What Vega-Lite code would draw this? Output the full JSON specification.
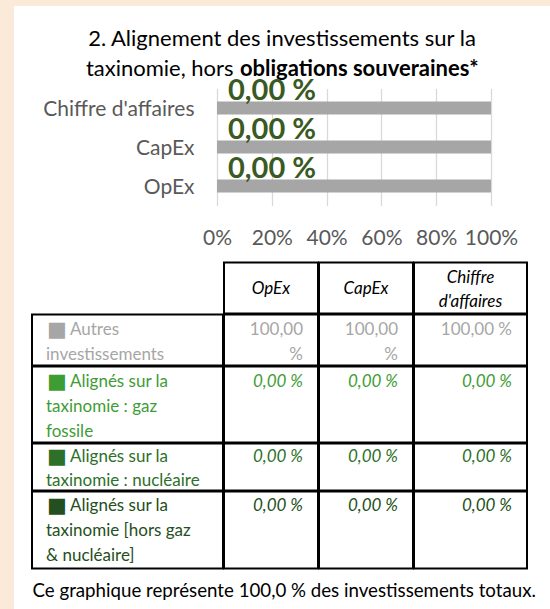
{
  "$schema": "https://vega.github.io/schema/vega-lite/v6.json",
  "background": "#FFFFFF",
  "padding": 0,
  "config": {
    "font": "Lato",
    "view": {"stroke": null},
    "legend": {"disable": true},
    "locale": {"number": {"decimal": ",", "thousands": "\u00a0", "grouping": [3], "currency": ["", "\u00a0€"], "percent": " %"}}
  },
  "datasets": {
    "repartition": [
      {"indicateur": "OpEx", "categorie": "Autres investissements", "part": 1},
      {"indicateur": "OpEx", "categorie": "Alignés sur la taxinomie : gaz fossile", "part": 0},
      {"indicateur": "OpEx", "categorie": "Alignés sur la taxinomie : nucléaire", "part": 0},
      {"indicateur": "OpEx", "categorie": "Alignés sur la taxinomie [hors gaz & nucléaire]", "part": 0},
      {"indicateur": "CapEx", "categorie": "Autres investissements", "part": 1},
      {"indicateur": "CapEx", "categorie": "Alignés sur la taxinomie : gaz fossile", "part": 0},
      {"indicateur": "CapEx", "categorie": "Alignés sur la taxinomie : nucléaire", "part": 0},
      {"indicateur": "CapEx", "categorie": "Alignés sur la taxinomie [hors gaz & nucléaire]", "part": 0},
      {"indicateur": "Chiffre d'affaires", "categorie": "Autres investissements", "part": 1},
      {"indicateur": "Chiffre d'affaires", "categorie": "Alignés sur la taxinomie : gaz fossile", "part": 0},
      {"indicateur": "Chiffre d'affaires", "categorie": "Alignés sur la taxinomie : nucléaire", "part": 0},
      {"indicateur": "Chiffre d'affaires", "categorie": "Alignés sur la taxinomie [hors gaz & nucléaire]", "part": 0}
    ],
    "lignes": [
      {"categorie": "Autres investissements", "premiere": "Autres", "suite": "investissements"},
      {"categorie": "Alignés sur la taxinomie : gaz fossile", "premiere": "Alignés sur la", "suite": "taxinomie : gaz\nfossile"},
      {"categorie": "Alignés sur la taxinomie : nucléaire", "premiere": "Alignés sur la", "suite": "taxinomie : nucléaire"},
      {"categorie": "Alignés sur la taxinomie [hors gaz & nucléaire]", "premiere": "Alignés sur la", "suite": "taxinomie [hors gaz\n& nucléaire]"}
    ],
    "titre": [
      {"ligne": 1, "segment": 1, "texte": "2. Alignement des investissements sur la"},
      {"ligne": 2, "segment": 1, "texte": "taxinomie, hors"},
      {"ligne": 2, "segment": 2, "texte": "obligations souveraines*"}
    ],
    "note": [{"texte": "Ce graphique représente 100,0 % des investissements totaux."}]
  },
  "spacing": 0,
  "hconcat": [
    {"width": 14, "height": 609, "view": {"fill": "#FBE9DA"}, "data": {"values": []}, "mark": "rect", "encoding": {}},
    {"spacing": 21.5, "vconcat": [
      {"width": 536, "height": 6, "view": {"fill": "#FBE9DA"}, "data": {"values": []}, "mark": "rect", "encoding": {}},
      {"spacing": 16, "hconcat": [
        {"width": 1, "height": 1, "data": {"values": []}, "mark": "rect", "encoding": {}},
        {"spacing": -4, "vconcat": [
          {"center": true, "spacing": 8.5, "vconcat": [
            {"width": 500, "height": 22, "data": {"name": "titre"}, "transform": [{"filter": "datum.ligne == 1"}],
             "mark": {"type": "text", "fontSize": 22, "color": "#000000"},
             "encoding": {"text": {"field": "texte"}}},
            {"spacing": 5, "hconcat": [
              {"width": 1, "height": 22, "data": {"name": "titre"}, "transform": [{"filter": "datum.ligne == 2 && datum.segment == 1"}],
               "mark": {"type": "text", "align": "left", "fontSize": 22, "color": "#000000"},
               "encoding": {"text": {"field": "texte"}}},
              {"width": 1, "height": 22, "data": {"name": "titre"}, "transform": [{"filter": "datum.ligne == 2 && datum.segment == 2"}],
               "mark": {"type": "text", "align": "left", "fontSize": 22, "fontWeight": "bold", "color": "#000000"},
               "encoding": {"text": {"field": "texte"}}}
            ]}
          ]},
          {"spacing": 0, "hconcat": [
            {"width": 1, "height": 1, "data": {"values": []}, "mark": "rect", "encoding": {}},
            {"width": 274, "height": 117, "data": {"name": "repartition"},
             "layer": [
               {"mark": {"type": "bar", "size": 13},
                "encoding": {
                  "y": {"field": "indicateur", "type": "nominal", "sort": ["Chiffre d'affaires", "CapEx", "OpEx"], "scale": {"paddingInner": 0, "paddingOuter": 0},
                        "axis": {"title": null, "domain": false, "ticks": false, "tickSize": 0, "labelPadding": 23, "labelOffset": 1.5, "labelFontSize": 21, "labelColor": "#595959", "labelLimit": 0, "minExtent": 184, "maxExtent": 184}},
                  "x": {"field": "part", "type": "quantitative", "stack": "zero", "scale": {"domain": [0, 1]},
                        "axis": {"title": null, "values": [0, 0.2, 0.4, 0.6, 0.8, 1], "labelExpr": "round(datum.value * 100) + '%'", "domain": false, "ticks": false, "tickSize": 0, "labelPadding": 22, "labelFontSize": 21, "labelColor": "#595959", "labelFlush": false, "labelOverlap": false, "grid": true, "gridColor": "#D9D9D9", "gridWidth": 1.3, "minExtent": 57, "maxExtent": 57}},
                  "color": {"field": "categorie", "type": "nominal", "scale": {"domain": ["Autres investissements", "Alignés sur la taxinomie : gaz fossile", "Alignés sur la taxinomie : nucléaire", "Alignés sur la taxinomie [hors gaz & nucléaire]"], "range": ["#A6A6A6", "#3E9C35", "#2D7029", "#244F20"]}, "legend": null}
                }},
               {"transform": [{"filter": "datum.categorie != 'Autres investissements'"}, {"aggregate": [{"op": "sum", "field": "part", "as": "aligne"}], "groupby": ["indicateur"]}],
                "mark": {"type": "text", "align": "left", "baseline": "middle", "dx": 11, "dy": 2, "fontSize": 29, "fontWeight": "bold", "color": "#3A5A24"},
                "encoding": {
                  "y": {"field": "indicateur", "type": "nominal", "sort": ["Chiffre d'affaires", "CapEx", "OpEx"], "bandPosition": 0},
                  "x": {"field": "aligne", "type": "quantitative"},
                  "text": {"field": "aligne", "type": "quantitative", "format": ".2%"}
                }}
             ]}
          ]},
          {"spacing": -5, "vconcat": [
            {"spacing": -5, "hconcat": [
              {"width": 191, "height": 51, "view": {"stroke": "#FFFFFF", "strokeWidth": 2}, "data": {"values": []}, "mark": "text", "encoding": {}},
              {"width": 94, "height": 51, "view": {"stroke": "#000000", "strokeWidth": 2}, "data": {"name": "repartition"},
               "transform": [{"filter": "datum.indicateur == 'OpEx' && datum.categorie == 'Autres investissements'"}],
               "mark": {"type": "text", "align": "center", "baseline": "top", "dy": 18, "fontStyle": "italic", "fontSize": 17, "color": "#000000"},
               "encoding": {"y": {"datum": 1, "type": "quantitative", "scale": {"domain": [0, 1]}, "axis": null}, "text": {"field": "indicateur"}}},
              {"width": 94, "height": 51, "view": {"stroke": "#000000", "strokeWidth": 2}, "data": {"name": "repartition"},
               "transform": [{"filter": "datum.indicateur == 'CapEx' && datum.categorie == 'Autres investissements'"}],
               "mark": {"type": "text", "align": "center", "baseline": "top", "dy": 18, "fontStyle": "italic", "fontSize": 17, "color": "#000000"},
               "encoding": {"y": {"datum": 1, "type": "quantitative", "scale": {"domain": [0, 1]}, "axis": null}, "text": {"field": "indicateur"}}},
              {"width": 113, "height": 51, "view": {"stroke": "#000000", "strokeWidth": 2}, "data": {"name": "repartition"},
               "transform": [{"filter": "datum.indicateur == \"Chiffre d'affaires\" && datum.categorie == 'Autres investissements'"}],
               "mark": {"type": "text", "align": "center", "baseline": "top", "dy": 7, "lineHeight": 24, "lineBreak": " ", "fontStyle": "italic", "fontSize": 17, "color": "#000000"},
               "encoding": {"y": {"datum": 1, "type": "quantitative", "scale": {"domain": [0, 1]}, "axis": null}, "text": {"field": "indicateur"}}}
            ]},
            {"spacing": -5, "hconcat": [
              {"width": 191, "height": 51, "view": {"stroke": "#000000", "strokeWidth": 2}, "data": {"name": "lignes"},
               "transform": [{"filter": "datum.categorie == 'Autres investissements'"}],
               "encoding": {"x": {"datum": 0, "type": "quantitative", "scale": {"domain": [0, 1]}, "axis": null}, "y": {"datum": 1, "type": "quantitative", "scale": {"domain": [0, 1]}, "axis": null},
                 "color": {"field": "categorie", "type": "nominal", "scale": {"domain": ["Autres investissements", "Alignés sur la taxinomie : gaz fossile", "Alignés sur la taxinomie : nucléaire", "Alignés sur la taxinomie [hors gaz & nucléaire]"], "range": ["#A6A6A6", "#3E9C35", "#2D7029", "#244F20"]}, "legend": null}},
               "layer": [
                 {"mark": {"type": "text", "text": "■", "font": "DejaVu Sans", "fontSize": 21, "align": "left", "baseline": "alphabetic", "dx": 15, "dy": 21}},
                 {"mark": {"type": "text", "align": "left", "baseline": "top", "dx": 38, "dy": 7.5, "fontSize": 17}, "encoding": {"text": {"field": "premiere"}}},
                 {"mark": {"type": "text", "align": "left", "baseline": "top", "dx": 14, "dy": 32.5, "lineHeight": 25, "lineBreak": "\n", "fontSize": 17}, "encoding": {"text": {"field": "suite"}}}
               ]},
              {"width": 94, "height": 51, "view": {"stroke": "#000000", "strokeWidth": 2}, "data": {"name": "repartition"},
               "transform": [{"filter": "datum.indicateur == 'OpEx' && datum.categorie == 'Autres investissements'"}],
               "mark": {"type": "text", "align": "right", "baseline": "top", "dx": -15, "dy": 7.5, "lineHeight": 25, "lineBreak": " ", "fontSize": 17},
               "encoding": {"x": {"datum": 1, "type": "quantitative", "scale": {"domain": [0, 1]}, "axis": null}, "y": {"datum": 1, "type": "quantitative", "scale": {"domain": [0, 1]}, "axis": null}, "text": {"field": "part", "type": "quantitative", "format": ".2%"},
                 "color": {"field": "categorie", "type": "nominal", "scale": {"domain": ["Autres investissements", "Alignés sur la taxinomie : gaz fossile", "Alignés sur la taxinomie : nucléaire", "Alignés sur la taxinomie [hors gaz & nucléaire]"], "range": ["#A6A6A6", "#3E9C35", "#2D7029", "#244F20"]}, "legend": null}}},
              {"width": 94, "height": 51, "view": {"stroke": "#000000", "strokeWidth": 2}, "data": {"name": "repartition"},
               "transform": [{"filter": "datum.indicateur == 'CapEx' && datum.categorie == 'Autres investissements'"}],
               "mark": {"type": "text", "align": "right", "baseline": "top", "dx": -15, "dy": 7.5, "lineHeight": 25, "lineBreak": " ", "fontSize": 17},
               "encoding": {"x": {"datum": 1, "type": "quantitative", "scale": {"domain": [0, 1]}, "axis": null}, "y": {"datum": 1, "type": "quantitative", "scale": {"domain": [0, 1]}, "axis": null}, "text": {"field": "part", "type": "quantitative", "format": ".2%"},
                 "color": {"field": "categorie", "type": "nominal", "scale": {"domain": ["Autres investissements", "Alignés sur la taxinomie : gaz fossile", "Alignés sur la taxinomie : nucléaire", "Alignés sur la taxinomie [hors gaz & nucléaire]"], "range": ["#A6A6A6", "#3E9C35", "#2D7029", "#244F20"]}, "legend": null}}},
              {"width": 113, "height": 51, "view": {"stroke": "#000000", "strokeWidth": 2}, "data": {"name": "repartition"},
               "transform": [{"filter": "datum.indicateur == \"Chiffre d'affaires\" && datum.categorie == 'Autres investissements'"}],
               "mark": {"type": "text", "align": "right", "baseline": "top", "dx": -15, "dy": 7.5, "lineHeight": 25, "fontSize": 17},
               "encoding": {"x": {"datum": 1, "type": "quantitative", "scale": {"domain": [0, 1]}, "axis": null}, "y": {"datum": 1, "type": "quantitative", "scale": {"domain": [0, 1]}, "axis": null}, "text": {"field": "part", "type": "quantitative", "format": ".2%"},
                 "color": {"field": "categorie", "type": "nominal", "scale": {"domain": ["Autres investissements", "Alignés sur la taxinomie : gaz fossile", "Alignés sur la taxinomie : nucléaire", "Alignés sur la taxinomie [hors gaz & nucléaire]"], "range": ["#A6A6A6", "#3E9C35", "#2D7029", "#244F20"]}, "legend": null}}}
            ]},
            {"spacing": -5, "hconcat": [
              {"width": 191, "height": 76, "view": {"stroke": "#000000", "strokeWidth": 2}, "data": {"name": "lignes"},
               "transform": [{"filter": "datum.categorie == 'Alignés sur la taxinomie : gaz fossile'"}],
               "encoding": {"x": {"datum": 0, "type": "quantitative", "scale": {"domain": [0, 1]}, "axis": null}, "y": {"datum": 1, "type": "quantitative", "scale": {"domain": [0, 1]}, "axis": null},
                 "color": {"field": "categorie", "type": "nominal", "scale": {"domain": ["Autres investissements", "Alignés sur la taxinomie : gaz fossile", "Alignés sur la taxinomie : nucléaire", "Alignés sur la taxinomie [hors gaz & nucléaire]"], "range": ["#A6A6A6", "#3E9C35", "#2D7029", "#244F20"]}, "legend": null}},
               "layer": [
                 {"mark": {"type": "text", "text": "■", "font": "DejaVu Sans", "fontSize": 21, "align": "left", "baseline": "alphabetic", "dx": 15, "dy": 21}},
                 {"mark": {"type": "text", "align": "left", "baseline": "top", "dx": 38, "dy": 7.5, "fontSize": 17}, "encoding": {"text": {"field": "premiere"}}},
                 {"mark": {"type": "text", "align": "left", "baseline": "top", "dx": 14, "dy": 32.5, "lineHeight": 24.5, "lineBreak": "\n", "fontSize": 17}, "encoding": {"text": {"field": "suite"}}}
               ]},
              {"width": 94, "height": 76, "view": {"stroke": "#000000", "strokeWidth": 2}, "data": {"name": "repartition"},
               "transform": [{"filter": "datum.indicateur == 'OpEx' && datum.categorie == 'Alignés sur la taxinomie : gaz fossile'"}],
               "mark": {"type": "text", "align": "right", "baseline": "top", "dx": -15, "dy": 7.5, "lineHeight": 25, "fontStyle": "italic", "fontSize": 17},
               "encoding": {"x": {"datum": 1, "type": "quantitative", "scale": {"domain": [0, 1]}, "axis": null}, "y": {"datum": 1, "type": "quantitative", "scale": {"domain": [0, 1]}, "axis": null}, "text": {"field": "part", "type": "quantitative", "format": ".2%"},
                 "color": {"field": "categorie", "type": "nominal", "scale": {"domain": ["Autres investissements", "Alignés sur la taxinomie : gaz fossile", "Alignés sur la taxinomie : nucléaire", "Alignés sur la taxinomie [hors gaz & nucléaire]"], "range": ["#A6A6A6", "#3E9C35", "#2D7029", "#244F20"]}, "legend": null}}},
              {"width": 94, "height": 76, "view": {"stroke": "#000000", "strokeWidth": 2}, "data": {"name": "repartition"},
               "transform": [{"filter": "datum.indicateur == 'CapEx' && datum.categorie == 'Alignés sur la taxinomie : gaz fossile'"}],
               "mark": {"type": "text", "align": "right", "baseline": "top", "dx": -15, "dy": 7.5, "lineHeight": 25, "fontStyle": "italic", "fontSize": 17},
               "encoding": {"x": {"datum": 1, "type": "quantitative", "scale": {"domain": [0, 1]}, "axis": null}, "y": {"datum": 1, "type": "quantitative", "scale": {"domain": [0, 1]}, "axis": null}, "text": {"field": "part", "type": "quantitative", "format": ".2%"},
                 "color": {"field": "categorie", "type": "nominal", "scale": {"domain": ["Autres investissements", "Alignés sur la taxinomie : gaz fossile", "Alignés sur la taxinomie : nucléaire", "Alignés sur la taxinomie [hors gaz & nucléaire]"], "range": ["#A6A6A6", "#3E9C35", "#2D7029", "#244F20"]}, "legend": null}}},
              {"width": 113, "height": 76, "view": {"stroke": "#000000", "strokeWidth": 2}, "data": {"name": "repartition"},
               "transform": [{"filter": "datum.indicateur == \"Chiffre d'affaires\" && datum.categorie == 'Alignés sur la taxinomie : gaz fossile'"}],
               "mark": {"type": "text", "align": "right", "baseline": "top", "dx": -15, "dy": 7.5, "lineHeight": 25, "fontStyle": "italic", "fontSize": 17},
               "encoding": {"x": {"datum": 1, "type": "quantitative", "scale": {"domain": [0, 1]}, "axis": null}, "y": {"datum": 1, "type": "quantitative", "scale": {"domain": [0, 1]}, "axis": null}, "text": {"field": "part", "type": "quantitative", "format": ".2%"},
                 "color": {"field": "categorie", "type": "nominal", "scale": {"domain": ["Autres investissements", "Alignés sur la taxinomie : gaz fossile", "Alignés sur la taxinomie : nucléaire", "Alignés sur la taxinomie [hors gaz & nucléaire]"], "range": ["#A6A6A6", "#3E9C35", "#2D7029", "#244F20"]}, "legend": null}}}
            ]},
            {"spacing": -5, "hconcat": [
              {"width": 191, "height": 47, "view": {"stroke": "#000000", "strokeWidth": 2}, "data": {"name": "lignes"},
               "transform": [{"filter": "datum.categorie == 'Alignés sur la taxinomie : nucléaire'"}],
               "encoding": {"x": {"datum": 0, "type": "quantitative", "scale": {"domain": [0, 1]}, "axis": null}, "y": {"datum": 1, "type": "quantitative", "scale": {"domain": [0, 1]}, "axis": null},
                 "color": {"field": "categorie", "type": "nominal", "scale": {"domain": ["Autres investissements", "Alignés sur la taxinomie : gaz fossile", "Alignés sur la taxinomie : nucléaire", "Alignés sur la taxinomie [hors gaz & nucléaire]"], "range": ["#A6A6A6", "#3E9C35", "#2D7029", "#244F20"]}, "legend": null}},
               "layer": [
                 {"mark": {"type": "text", "text": "■", "font": "DejaVu Sans", "fontSize": 21, "align": "left", "baseline": "alphabetic", "dx": 15, "dy": 19}},
                 {"mark": {"type": "text", "align": "left", "baseline": "top", "dx": 38, "dy": 5.5, "fontSize": 17}, "encoding": {"text": {"field": "premiere"}}},
                 {"mark": {"type": "text", "align": "left", "baseline": "top", "dx": 14, "dy": 29.5, "lineHeight": 25, "lineBreak": "\n", "fontSize": 17}, "encoding": {"text": {"field": "suite"}}}
               ]},
              {"width": 94, "height": 47, "view": {"stroke": "#000000", "strokeWidth": 2}, "data": {"name": "repartition"},
               "transform": [{"filter": "datum.indicateur == 'OpEx' && datum.categorie == 'Alignés sur la taxinomie : nucléaire'"}],
               "mark": {"type": "text", "align": "right", "baseline": "top", "dx": -15, "dy": 5.5, "lineHeight": 25, "fontStyle": "italic", "fontSize": 17},
               "encoding": {"x": {"datum": 1, "type": "quantitative", "scale": {"domain": [0, 1]}, "axis": null}, "y": {"datum": 1, "type": "quantitative", "scale": {"domain": [0, 1]}, "axis": null}, "text": {"field": "part", "type": "quantitative", "format": ".2%"},
                 "color": {"field": "categorie", "type": "nominal", "scale": {"domain": ["Autres investissements", "Alignés sur la taxinomie : gaz fossile", "Alignés sur la taxinomie : nucléaire", "Alignés sur la taxinomie [hors gaz & nucléaire]"], "range": ["#A6A6A6", "#3E9C35", "#2D7029", "#244F20"]}, "legend": null}}},
              {"width": 94, "height": 47, "view": {"stroke": "#000000", "strokeWidth": 2}, "data": {"name": "repartition"},
               "transform": [{"filter": "datum.indicateur == 'CapEx' && datum.categorie == 'Alignés sur la taxinomie : nucléaire'"}],
               "mark": {"type": "text", "align": "right", "baseline": "top", "dx": -15, "dy": 5.5, "lineHeight": 25, "fontStyle": "italic", "fontSize": 17},
               "encoding": {"x": {"datum": 1, "type": "quantitative", "scale": {"domain": [0, 1]}, "axis": null}, "y": {"datum": 1, "type": "quantitative", "scale": {"domain": [0, 1]}, "axis": null}, "text": {"field": "part", "type": "quantitative", "format": ".2%"},
                 "color": {"field": "categorie", "type": "nominal", "scale": {"domain": ["Autres investissements", "Alignés sur la taxinomie : gaz fossile", "Alignés sur la taxinomie : nucléaire", "Alignés sur la taxinomie [hors gaz & nucléaire]"], "range": ["#A6A6A6", "#3E9C35", "#2D7029", "#244F20"]}, "legend": null}}},
              {"width": 113, "height": 47, "view": {"stroke": "#000000", "strokeWidth": 2}, "data": {"name": "repartition"},
               "transform": [{"filter": "datum.indicateur == \"Chiffre d'affaires\" && datum.categorie == 'Alignés sur la taxinomie : nucléaire'"}],
               "mark": {"type": "text", "align": "right", "baseline": "top", "dx": -15, "dy": 5.5, "lineHeight": 25, "fontStyle": "italic", "fontSize": 17},
               "encoding": {"x": {"datum": 1, "type": "quantitative", "scale": {"domain": [0, 1]}, "axis": null}, "y": {"datum": 1, "type": "quantitative", "scale": {"domain": [0, 1]}, "axis": null}, "text": {"field": "part", "type": "quantitative", "format": ".2%"},
                 "color": {"field": "categorie", "type": "nominal", "scale": {"domain": ["Autres investissements", "Alignés sur la taxinomie : gaz fossile", "Alignés sur la taxinomie : nucléaire", "Alignés sur la taxinomie [hors gaz & nucléaire]"], "range": ["#A6A6A6", "#3E9C35", "#2D7029", "#244F20"]}, "legend": null}}}
            ]},
            {"spacing": -5, "hconcat": [
              {"width": 191, "height": 77, "view": {"stroke": "#000000", "strokeWidth": 2}, "data": {"name": "lignes"},
               "transform": [{"filter": "datum.categorie == 'Alignés sur la taxinomie [hors gaz & nucléaire]'"}],
               "encoding": {"x": {"datum": 0, "type": "quantitative", "scale": {"domain": [0, 1]}, "axis": null}, "y": {"datum": 1, "type": "quantitative", "scale": {"domain": [0, 1]}, "axis": null},
                 "color": {"field": "categorie", "type": "nominal", "scale": {"domain": ["Autres investissements", "Alignés sur la taxinomie : gaz fossile", "Alignés sur la taxinomie : nucléaire", "Alignés sur la taxinomie [hors gaz & nucléaire]"], "range": ["#A6A6A6", "#3E9C35", "#2D7029", "#244F20"]}, "legend": null}},
               "layer": [
                 {"mark": {"type": "text", "text": "■", "font": "DejaVu Sans", "fontSize": 21, "align": "left", "baseline": "alphabetic", "dx": 15, "dy": 20}},
                 {"mark": {"type": "text", "align": "left", "baseline": "top", "dx": 38, "dy": 6.5, "fontSize": 17}, "encoding": {"text": {"field": "premiere"}}},
                 {"mark": {"type": "text", "align": "left", "baseline": "top", "dx": 14, "dy": 31.5, "lineHeight": 25, "lineBreak": "\n", "fontSize": 17}, "encoding": {"text": {"field": "suite"}}}
               ]},
              {"width": 94, "height": 77, "view": {"stroke": "#000000", "strokeWidth": 2}, "data": {"name": "repartition"},
               "transform": [{"filter": "datum.indicateur == 'OpEx' && datum.categorie == 'Alignés sur la taxinomie [hors gaz & nucléaire]'"}],
               "mark": {"type": "text", "align": "right", "baseline": "top", "dx": -15, "dy": 6.5, "lineHeight": 25, "fontStyle": "italic", "fontSize": 17},
               "encoding": {"x": {"datum": 1, "type": "quantitative", "scale": {"domain": [0, 1]}, "axis": null}, "y": {"datum": 1, "type": "quantitative", "scale": {"domain": [0, 1]}, "axis": null}, "text": {"field": "part", "type": "quantitative", "format": ".2%"},
                 "color": {"field": "categorie", "type": "nominal", "scale": {"domain": ["Autres investissements", "Alignés sur la taxinomie : gaz fossile", "Alignés sur la taxinomie : nucléaire", "Alignés sur la taxinomie [hors gaz & nucléaire]"], "range": ["#A6A6A6", "#3E9C35", "#2D7029", "#244F20"]}, "legend": null}}},
              {"width": 94, "height": 77, "view": {"stroke": "#000000", "strokeWidth": 2}, "data": {"name": "repartition"},
               "transform": [{"filter": "datum.indicateur == 'CapEx' && datum.categorie == 'Alignés sur la taxinomie [hors gaz & nucléaire]'"}],
               "mark": {"type": "text", "align": "right", "baseline": "top", "dx": -15, "dy": 6.5, "lineHeight": 25, "fontStyle": "italic", "fontSize": 17},
               "encoding": {"x": {"datum": 1, "type": "quantitative", "scale": {"domain": [0, 1]}, "axis": null}, "y": {"datum": 1, "type": "quantitative", "scale": {"domain": [0, 1]}, "axis": null}, "text": {"field": "part", "type": "quantitative", "format": ".2%"},
                 "color": {"field": "categorie", "type": "nominal", "scale": {"domain": ["Autres investissements", "Alignés sur la taxinomie : gaz fossile", "Alignés sur la taxinomie : nucléaire", "Alignés sur la taxinomie [hors gaz & nucléaire]"], "range": ["#A6A6A6", "#3E9C35", "#2D7029", "#244F20"]}, "legend": null}}},
              {"width": 113, "height": 77, "view": {"stroke": "#000000", "strokeWidth": 2}, "data": {"name": "repartition"},
               "transform": [{"filter": "datum.indicateur == \"Chiffre d'affaires\" && datum.categorie == 'Alignés sur la taxinomie [hors gaz & nucléaire]'"}],
               "mark": {"type": "text", "align": "right", "baseline": "top", "dx": -15, "dy": 6.5, "lineHeight": 25, "fontStyle": "italic", "fontSize": 17},
               "encoding": {"x": {"datum": 1, "type": "quantitative", "scale": {"domain": [0, 1]}, "axis": null}, "y": {"datum": 1, "type": "quantitative", "scale": {"domain": [0, 1]}, "axis": null}, "text": {"field": "part", "type": "quantitative", "format": ".2%"},
                 "color": {"field": "categorie", "type": "nominal", "scale": {"domain": ["Autres investissements", "Alignés sur la taxinomie : gaz fossile", "Alignés sur la taxinomie : nucléaire", "Alignés sur la taxinomie [hors gaz & nucléaire]"], "range": ["#A6A6A6", "#3E9C35", "#2D7029", "#244F20"]}, "legend": null}}}
            ]}
          ]},
          {"width": 1, "height": 38, "data": {"name": "note"},
           "mark": {"type": "text", "align": "left", "dy": 2, "fontSize": 18.7, "color": "#000000"},
           "encoding": {"text": {"field": "texte"}}}
        ]}
      ]}
    ]}
  ]
}
